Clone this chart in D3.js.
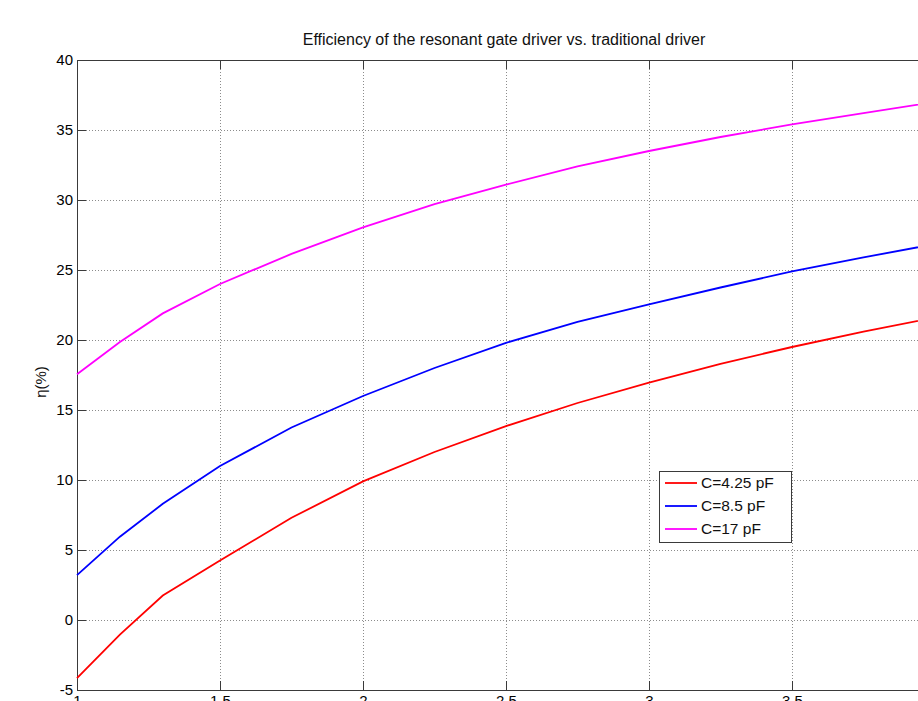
<!DOCTYPE html>
<html>
<head>
<meta charset="utf-8">
<script src="https://cdn.jsdelivr.net/npm/d3@7"></script>
<style>
  body { margin: 0; background: #fff; }
  svg { display: block; font-family: 'Liberation Sans', Arial, sans-serif; }
</style>
</head>
<body>
<div id="chart"></div>
<script>
// x values (V)
const xValues = [1, 1.15, 1.3, 1.5, 1.75, 2, 2.25, 2.5, 2.75, 3, 3.25, 3.5, 3.75, 4]

// efficiency in % for each capacitance
const c425Values = [-4.15, -1.05, 1.75, 4.25, 7.3, 9.9, 12.0, 13.85, 15.5, 16.95, 18.3, 19.5, 20.6, 21.6]
const c85Values = [3.2, 5.95, 8.3, 11.0, 13.75, 16.0, 18.0, 19.8, 21.3, 22.55, 23.75, 24.9, 25.9, 26.85]
const c17Values = [17.55, 19.85, 21.9, 24.0, 26.15, 28.05, 29.7, 31.1, 32.4, 33.5, 34.5, 35.4, 36.2, 37.0]

const seriesNames = ['C=4.25 pF', 'C=8.5 pF', 'C=17 pF']
const seriesColors = ['#ff0000', '#0000ff', '#ff00ff']

const xTicks = [1, 1.5, 2, 2.5, 3, 3.5, 4]
const yTicks = [-5, 0, 5, 10, 15, 20, 25, 30, 35, 40]

const margin = { top: 60, left: 77, right: -17, bottom: 11 }
const width = 918 - margin.left - margin.right
const height = 701 - margin.top - margin.bottom

const svg = d3
  .select('#chart')
  .append('svg')
  .attr('width', 918)
  .attr('height', 701)

const g = svg
  .append('g')
  .attr('transform', 'translate(' + margin.left + ',' + margin.top + ')')

const xScale = d3.scaleLinear().domain([1, 4]).range([0, width])
const yScale = d3.scaleLinear().domain([-5, 40]).range([height, 0])

// dotted grid
g.append('g')
  .attr('class', 'grid')
  .selectAll('line.vgrid')
  .data(xTicks.slice(1, -1))
  .enter()
  .append('line')
  .attr('x1', d => xScale(d))
  .attr('x2', d => xScale(d))
  .attr('y1', 0)
  .attr('y2', height)

g.select('.grid')
  .selectAll('line.hgrid')
  .data(yTicks.slice(1, -1))
  .enter()
  .append('line')
  .attr('x1', 0)
  .attr('x2', width)
  .attr('y1', d => yScale(d))
  .attr('y2', d => yScale(d))

g.selectAll('.grid line')
  .attr('stroke', '#8c8c8c')
  .attr('stroke-width', 1)
  .attr('stroke-dasharray', '1,2')
  .attr('shape-rendering', 'crispEdges')

// axes, ticks pointing inward like matlab
const tickLen = 9
const fmt = d => String(d)

const xAxis = d3.axisBottom(xScale).tickValues(xTicks).tickFormat(fmt).tickSize(-tickLen).tickSizeOuter(0).tickPadding(5)
const xAxisTop = d3.axisTop(xScale).tickValues(xTicks).tickFormat('').tickSize(-tickLen).tickSizeOuter(0)
const yAxis = d3.axisLeft(yScale).tickValues(yTicks).tickFormat(fmt).tickSize(-tickLen).tickSizeOuter(0).tickPadding(4)
const yAxisRight = d3.axisRight(yScale).tickValues(yTicks).tickFormat('').tickSize(-tickLen).tickSizeOuter(0)

g.append('g').attr('class', 'axis').attr('transform', 'translate(0,' + height + ')').call(xAxis)
g.append('g').attr('class', 'axis').call(xAxisTop)
g.append('g').attr('class', 'axis').call(yAxis)
g.append('g').attr('class', 'axis').attr('transform', 'translate(' + width + ',0)').call(yAxisRight)

g.selectAll('.axis path, .axis line')
  .attr('stroke', '#3a3a3a')
  .attr('stroke-width', 1)
  .attr('shape-rendering', 'crispEdges')

g.selectAll('.axis text')
  .attr('font-size', 15)
  .attr('font-family', "'Liberation Sans', Arial, sans-serif")
  .attr('fill', '#000')

// curves
const line = d3
  .line()
  .x((d, i) => xScale(xValues[i]))
  .y(d => yScale(d))

const allSeries = [c425Values, c85Values, c17Values]

g.selectAll('.curve')
  .data(allSeries)
  .enter()
  .append('path')
  .attr('class', 'curve')
  .attr('d', line)
  .attr('fill', 'none')
  .attr('stroke', (d, i) => seriesColors[i])
  .attr('stroke-width', 1.8)

// title
svg
  .append('text')
  .attr('x', 504)
  .attr('y', 45)
  .attr('text-anchor', 'middle')
  .attr('font-size', 16)
  .attr('fill', '#111')
  .text('Efficiency of the resonant gate driver vs. traditional driver')

// y label
svg
  .append('text')
  .attr('transform', 'translate(46,382) rotate(-90)')
  .attr('text-anchor', 'middle')
  .attr('font-size', 15)
  .attr('fill', '#111')
  .text('η(%)')

// legend
const legend = svg.append('g').attr('transform', 'translate(659,471)')

legend
  .append('rect')
  .attr('width', 132)
  .attr('height', 71)
  .attr('fill', '#fff')
  .attr('stroke', '#3a3a3a')
  .attr('stroke-width', 1)
  .attr('shape-rendering', 'crispEdges')

const rows = legend
  .selectAll('.row')
  .data(seriesNames)
  .enter()
  .append('g')
  .attr('class', 'row')
  .attr('transform', (d, i) => 'translate(0,' + (12 + i * 23) + ')')

rows
  .append('line')
  .attr('x1', 6)
  .attr('x2', 38)
  .attr('stroke', (d, i) => seriesColors[i])
  .attr('stroke-width', 1.8)

rows
  .append('text')
  .attr('x', 42)
  .attr('y', 5)
  .attr('font-size', 15.5)
  .attr('fill', '#111')
  .text(d => d)
</script>
</body>
</html>
